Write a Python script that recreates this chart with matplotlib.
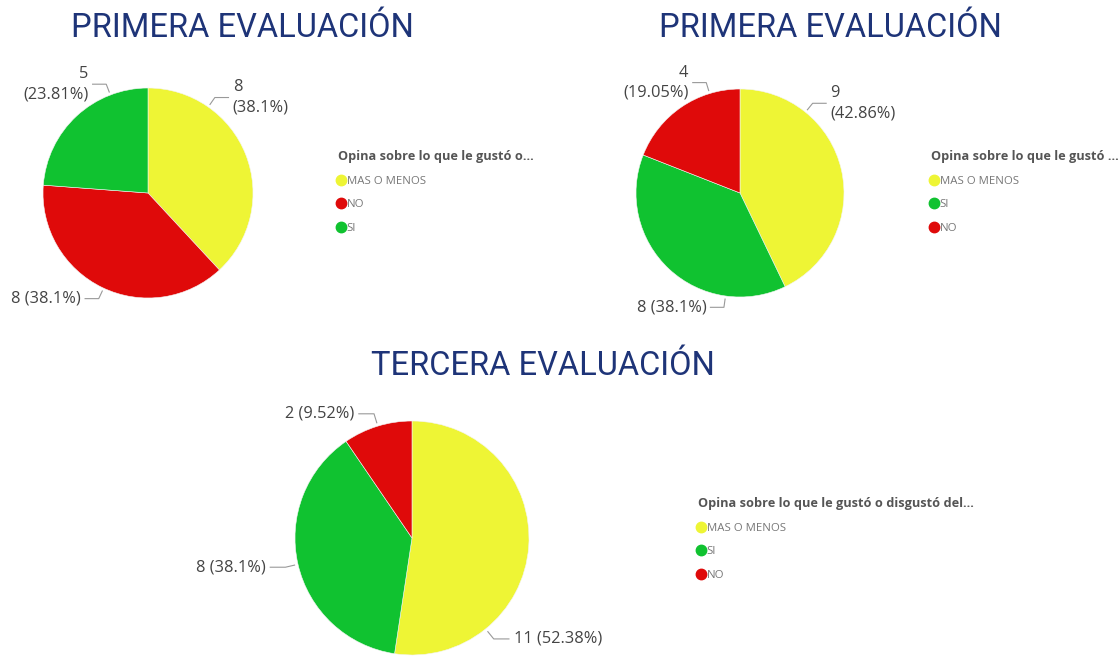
import numpy as np
import matplotlib
matplotlib.use("Agg")
import matplotlib.pyplot as plt
from matplotlib.lines import Line2D

# data
pie1_labels = ["MAS O MENOS", "NO", "SI"]
pie1_values = [8, 8, 5]
pie2_labels = ["MAS O MENOS", "SI", "NO"]
pie2_values = [9, 8, 4]
pie3_labels = ["MAS O MENOS", "SI", "NO"]
pie3_values = [11, 8, 2]

titles = ["PRIMERA EVALUACIÓN", "PRIMERA EVALUACIÓN", "TERCERA EVALUACIÓN"]
legend_titles = ["Opina sobre lo que le gustó o...",
                 "Opina sobre lo que le gustó ...",
                 "Opina sobre lo que le gustó o disgustó del..."]

colors = {"MAS O MENOS": "#EEF535", "NO": "#DF0A0A", "SI": "#10C230"}

W, H = 1118, 658
fig = plt.figure(figsize=(W / 100, H / 100), dpi=100)
fig.patch.set_facecolor("white")

# layout: pie centre / radius in px, label angle, side, wrap
charts = [
    dict(labels=pie1_labels, values=pie1_values, cx=148, cy=193, r=105,
         lab=[(55, 1, True), (245, -1, False), (111, -1, True)],
         title_xy=(242, 28), leg_xy=(338, 150)),
    dict(labels=pie2_labels, values=pie2_values, cx=740, cy=193, r=104,
         lab=[(51, 1, True), (262, -1, False), (107, -1, True)],
         title_xy=(830, 28), leg_xy=(931, 150)),
    dict(labels=pie3_labels, values=pie3_values, cx=412, cy=538, r=117,
         lab=[(-51, 1, False), (193, -1, False), (107, -1, False)],
         title_xy=(543, 366), leg_xy=(698, 497)),
]


def fmt_pct(p):
    return f"{p:.2f}".rstrip("0").rstrip(".")


for i, ch in enumerate(charts):
    cx, cy, r = ch["cx"], ch["cy"], ch["r"]
    ax = fig.add_axes([(cx - r) / W, (H - cy - r) / H, 2 * r / W, 2 * r / H])
    ax.pie(ch["values"], colors=[colors[l] for l in ch["labels"]],
           startangle=90, counterclock=False, radius=1,
           wedgeprops=dict(edgecolor="#f4f4f4", linewidth=0.4))
    ax.set_xlim(-1, 1)
    ax.set_ylim(-1, 1)
    ax.set_aspect("equal")
    ax.axis("off")

    total = sum(ch["values"])
    for v, (ang, side, wrap) in zip(ch["values"], ch["lab"]):
        a = np.radians(ang)
        x0, y0 = 1.03 * np.cos(a), 1.03 * np.sin(a)
        x1, y1 = 1.11 * np.cos(a), 1.11 * np.sin(a)
        x2 = x1 + side * 0.13
        ax.plot([x0, x1, x2], [y0, y1, y1], color="#999999", lw=0.8,
                clip_on=False)
        sep = "\n" if wrap else " "
        txt = f"{v}{sep}({fmt_pct(v / total * 100)}%)"
        ax.text(x2 + side * 0.04, y1, txt, ha="left" if side > 0 else "right",
                va="center", fontsize=11.8, color="#444444", linespacing=1.35,
                family="Open Sans", clip_on=False)

    tx, ty = ch["title_xy"]
    fig.text(tx / W, 1 - ty / H, titles[i], ha="center", va="center",
             fontsize=23.5, color="#1E3478", family="Roboto",
             fontweight="normal")

    handles = [Line2D([], [], marker="o", linestyle="", markersize=7.5,
                      markerfacecolor=colors[l], markeredgecolor=colors[l])
               for l in ch["labels"]]
    lx, ly = ch["leg_xy"]
    leg = fig.legend(handles, ch["labels"], loc="upper left",
                     bbox_to_anchor=(lx / W, 1 - ly / H), frameon=False,
                     title=legend_titles[i], alignment="left",
                     prop=dict(family="Open Sans", size=8.2),
                     title_fontproperties=dict(family="Open Sans", size=9.2,
                                               weight="bold"),
                     handlelength=0.55, handletextpad=0.2, labelspacing=1.1,
                     borderpad=0, borderaxespad=0)
    leg.get_title().set_color("#555555")
    for t in leg.get_texts():
        t.set_color("#777777")

fig.savefig("out.png", dpi=100, facecolor="white")
